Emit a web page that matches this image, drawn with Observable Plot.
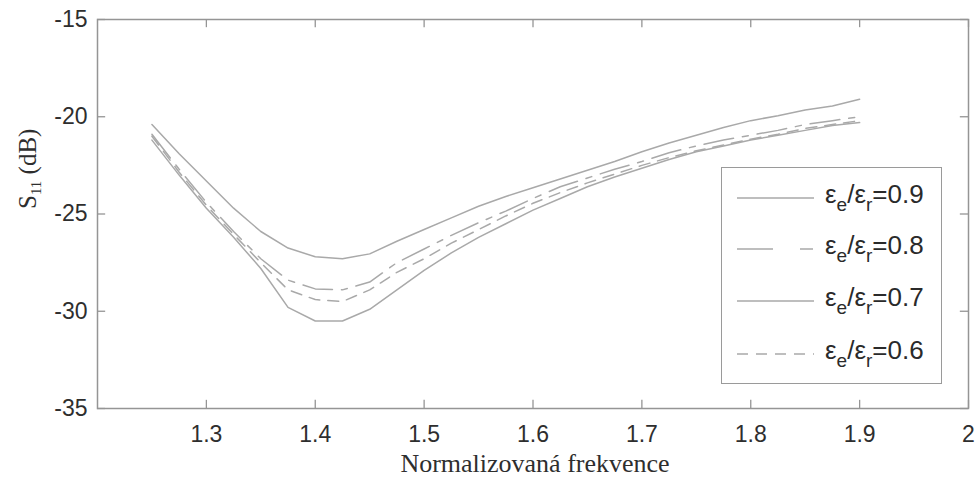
<!DOCTYPE html>
<html>
<head>
<meta charset="utf-8">
<script src="https://cdn.jsdelivr.net/npm/d3@7"></script>
<script src="https://cdn.jsdelivr.net/npm/@observablehq/plot@0.6"></script>
<style>
  html, body { margin: 0; padding: 0; background: #fff; }
  #wrap { position: relative; width: 977px; height: 477px; }
  #legend {
    position: absolute; left: 721px; top: 167px; width: 219px; height: 215px;
    border: 1.5px solid #9a9a9a; background: #fff;
    font-family: "Liberation Sans", Arial, sans-serif; font-size: 26px; color: #2a2a2a;
  }
  .entry { position: absolute; left: 0; height: 30px; width: 100%; }
  .entry svg { position: absolute; left: 15px; top: 9px; }
  .entry span { position: absolute; left: 103px; top: -4px; white-space: nowrap; line-height: 30px; }
  .entry sub { font-size: 19px; vertical-align: -8px; line-height: 0; }
</style>
</head>
<body>
<div id="wrap"><div id="chart"></div><div id="legend"></div></div>
<script>
// ---- data ----
const freq = [1.25, 1.275, 1.30, 1.325, 1.35, 1.375, 1.40, 1.425, 1.45, 1.475, 1.50, 1.525, 1.55,
              1.575, 1.60, 1.625, 1.65, 1.675, 1.70, 1.725, 1.75, 1.775, 1.80, 1.825, 1.85, 1.875, 1.90];
const s11_09 = [-20.4, -21.9, -23.3, -24.7, -25.9, -26.75, -27.2, -27.3, -27.05, -26.4, -25.8, -25.2, -24.6,
                -24.1, -23.65, -23.2, -22.75, -22.3, -21.8, -21.35, -20.95, -20.55, -20.2, -19.95, -19.65, -19.45, -19.1];
const s11_08 = [-20.9, -22.7, -24.4, -25.9, -27.3, -28.4, -28.85, -28.9, -28.5, -27.5, -26.8, -26.1, -25.45,
                -24.85, -24.2, -23.6, -23.15, -22.7, -22.3, -21.85, -21.5, -21.2, -20.95, -20.7, -20.4, -20.2, -20.0];
const s11_07 = [-21.2, -23.0, -24.7, -26.2, -27.8, -29.8, -30.5, -30.5, -29.9, -28.9, -27.9, -27.0, -26.2,
                -25.5, -24.8, -24.2, -23.6, -23.1, -22.65, -22.2, -21.8, -21.5, -21.2, -20.95, -20.7, -20.45, -20.3];
const s11_06 = [-21.0, -22.85, -24.55, -26.05, -27.5, -28.9, -29.4, -29.5, -28.9, -28.0, -27.3, -26.5, -25.8,
                -25.1, -24.45, -23.9, -23.4, -22.95, -22.5, -22.1, -21.75, -21.45, -21.15, -20.9, -20.6, -20.4, -20.2];
const ratios = ["0.9", "0.8", "0.7", "0.6"];
const xTicks = [1.3, 1.4, 1.5, 1.6, 1.7, 1.8, 1.9, 2];
const yTicks = [-35, -30, -25, -20, -15];
const xTitle = "Normalizovaná frekvence";
const yTitle = "S11 (dB)";

// ---- styling ----
const seriesValues = [s11_09, s11_08, s11_07, s11_06];
const dashes = [null, "30,9,6,9", null, "11,8"];
const legendDashes = [null, "36,27,13", null, "11,8"];
const lineColor = "#a9a9a9";
const frameColor = "#959595";
const textColor = "#2e2e2e";
const sans = "'Liberation Sans', Arial, sans-serif";
const serif = "'Liberation Serif', 'Times New Roman', serif";

const xDom = [1.2, 2], yDom = [-35, -15];
const tkY = 0.42, tkX = 0.0075;

const lineMarks = seriesValues.map((vals, i) =>
  Plot.line(freq.map((f, j) => ({f, v: vals[j]})), {
    x: "f", y: "v", stroke: lineColor, strokeWidth: 1.5,
    strokeDasharray: dashes[i] || undefined
  })
);

const chart = Plot.plot({
  width: 977, height: 477,
  marginLeft: 97, marginRight: 9, marginTop: 19, marginBottom: 69,
  style: {background: "#fff", color: textColor},
  x: {domain: xDom},
  y: {domain: yDom},
  marks: [
    Plot.axisX(xTicks, {anchor: "bottom", tickSize: 0, tickPadding: 17, fontSize: 23, fontFamily: sans,
      tickFormat: d => String(d), label: null, fill: textColor}),
    Plot.axisY(yTicks, {anchor: "left", tickSize: 0, tickPadding: 10, fontSize: 23, fontFamily: sans,
      tickFormat: d => String(d), label: null, fill: textColor}),
    ...lineMarks,
    Plot.ruleX(xTicks, {x: d => d, y1: yDom[0], y2: yDom[0] + tkY, stroke: frameColor, strokeWidth: 1.3}),
    Plot.ruleX(xTicks, {x: d => d, y1: yDom[1], y2: yDom[1] - tkY, stroke: frameColor, strokeWidth: 1.3}),
    Plot.ruleY(yTicks, {y: d => d, x1: xDom[0], x2: xDom[0] + tkX, stroke: frameColor, strokeWidth: 1.3}),
    Plot.ruleY(yTicks, {y: d => d, x1: xDom[1], x2: xDom[1] - tkX, stroke: frameColor, strokeWidth: 1.3}),
    Plot.frame({stroke: frameColor, strokeWidth: 1.5}),
    Plot.text([xTitle], {text: d => d, frameAnchor: "bottom", dy: 55, dx: 2, lineAnchor: "middle",
      fontFamily: serif, fontSize: 26, fill: textColor}),
    Plot.text([yTitle], {text: d => d, frameAnchor: "left", dx: -70, dy: -5, rotate: -90, lineAnchor: "middle",
      fontFamily: serif, fontSize: 25, fill: textColor})
  ]
});
document.getElementById("chart").appendChild(chart);

// subscript "11" in the y title
d3.select(chart).selectAll("text").filter(function () { return this.textContent === yTitle; })
  .each(function () {
    const t = d3.select(this);
    t.text(null);
    t.append("tspan").text("S");
    t.append("tspan").attr("font-size", 15).attr("dy", 5).text("11");
    t.append("tspan").attr("dy", -5).text(" (dB)");
  });

// legend
const legend = d3.select("#legend");
const entryTops = [15, 66, 118, 171];
ratios.forEach((r, i) => {
  const e = legend.append("div").attr("class", "entry").style("top", entryTops[i] + "px");
  const svg = e.append("svg").attr("width", 78).attr("height", 12);
  svg.append("line").attr("x1", 0).attr("x2", 77).attr("y1", 6).attr("y2", 6)
    .attr("stroke", lineColor).attr("stroke-width", 1.5)
    .attr("stroke-dasharray", legendDashes[i]);
  e.append("span").html("ε<sub>e</sub>/ε<sub>r</sub>=" + r);
});
</script>
</body>
</html>
